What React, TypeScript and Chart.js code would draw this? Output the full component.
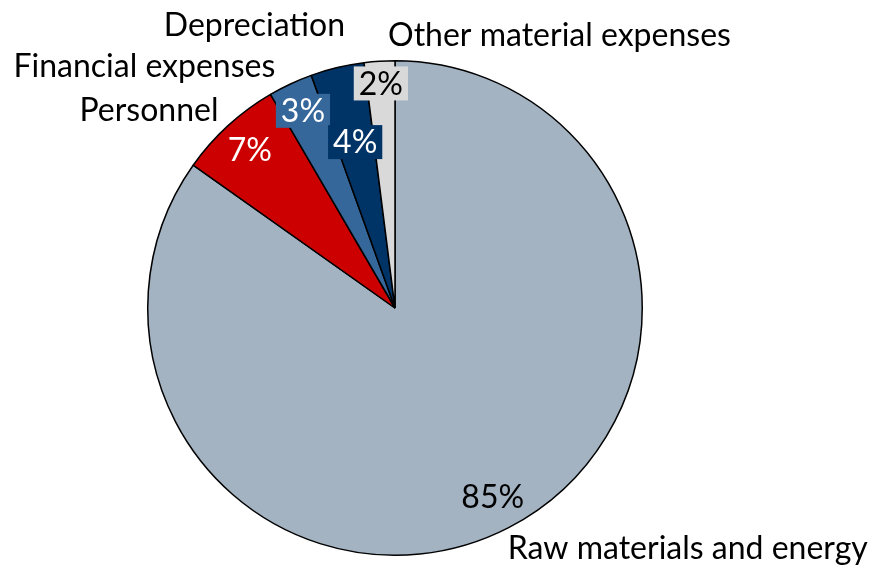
import React, { useEffect, useRef } from "react";
import { Chart, registerables } from "chart.js";

Chart.register(...registerables);

const categories = [
  "Raw materials and energy",
  "Personnel",
  "Financial expenses",
  "Depreciation",
  "Other material expenses",
];
const shares = [84.8, 6.8, 2.9, 3.5, 2.0];
const sliceColors = ["#A3B3C2", "#CC0000", "#35679A", "#003366", "#D9D9D9"];
const pctTextColors = ["#000000", "#FFFFFF", "#FFFFFF", "#FFFFFF", "#000000"];

const FONT_FAMILY = "Lato, 'Noto Sans', sans-serif";
const FONT_SIZE = 32;

// label layout (relative to pie centre, in units of the outer radius)
const pctRadial = [0.86, 0.87, 0.88, 0.69, 0.91];
const pctBoxed = [false, false, true, true, true];
const catAnchors: [number, number, CanvasTextAlign][] = [
  [0.456, 1.016, "left"],
  [-0.714, -0.758, "right"],
  [-0.484, -0.935, "right"],
  [-0.202, -1.101, "right"],
  [-0.028, -1.06, "left"],
];

const labelPlugin = {
  id: "pieLabels",
  afterDatasetsDraw(chart: any) {
    const ctx: CanvasRenderingContext2D = chart.ctx;
    const meta = chart.getDatasetMeta(0);
    const total = shares.reduce((a, b) => a + b, 0);
    ctx.save();
    ctx.font = `${FONT_SIZE}px ${FONT_FAMILY}`;
    meta.data.forEach((arc: any, i: number) => {
      const p = arc.getProps(["x", "y", "startAngle", "endAngle", "outerRadius"], true);
      const mid = (p.startAngle + p.endAngle) / 2;
      const rr = p.outerRadius * pctRadial[i];
      const lx = p.x + Math.cos(mid) * rr;
      const ly = p.y + Math.sin(mid) * rr;
      const text = Math.round((shares[i] / total) * 100) + "%";
      const w = ctx.measureText(text).width;
      if (pctBoxed[i]) {
        ctx.fillStyle = sliceColors[i];
        ctx.fillRect(lx - w / 2 - 5, ly - 17, w + 10, 34);
      }
      ctx.fillStyle = pctTextColors[i];
      ctx.textAlign = "center";
      ctx.textBaseline = "middle";
      ctx.fillText(text, lx, ly + 1);

      const [ax, ay, align] = catAnchors[i];
      ctx.fillStyle = "#000000";
      ctx.textAlign = align;
      ctx.textBaseline = "alphabetic";
      ctx.fillText(categories[i], p.x + ax * p.outerRadius, p.y + ay * p.outerRadius);
    });
    ctx.restore();
  },
};

export default function App() {
  const canvasRef = useRef<HTMLCanvasElement | null>(null);

  useEffect(() => {
    if (!canvasRef.current) return;
    const chart = new Chart(canvasRef.current, {
      type: "pie",
      data: {
        labels: categories,
        datasets: [
          {
            data: shares,
            backgroundColor: sliceColors,
            borderColor: "#000000",
            borderWidth: 1.5,
            hoverOffset: 0,
          },
        ],
      },
      options: {
        animation: false,
        responsive: true,
        maintainAspectRatio: false,
        layout: { padding: { left: 147, right: 229, top: 60, bottom: 13 } },
        plugins: {
          legend: { display: false },
          tooltip: { enabled: false },
        },
      },
      plugins: [labelPlugin],
    });
    return () => chart.destroy();
  }, []);

  return (
    <div style={{ position: "absolute", left: 0, top: 0, width: 872, height: 569, background: "#fff" }}>
      <canvas ref={canvasRef} />
    </div>
  );
}
